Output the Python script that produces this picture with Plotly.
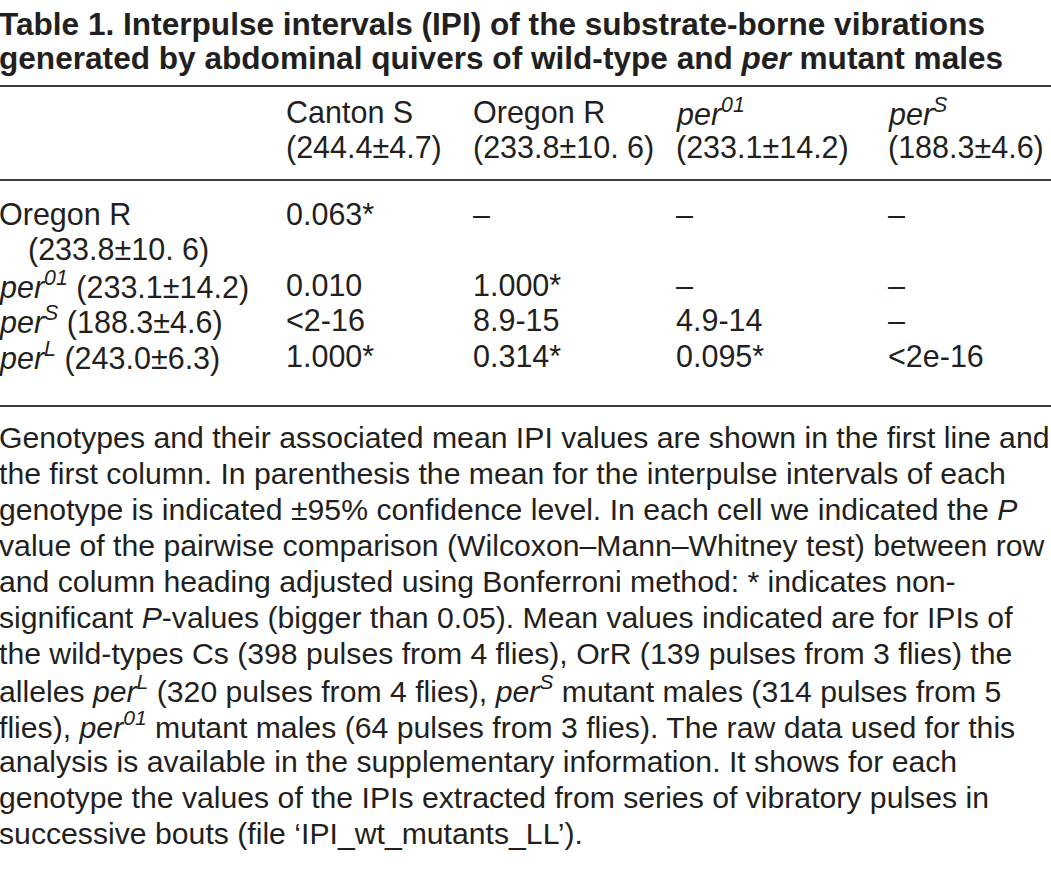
import plotly.graph_objects as go

# ---------------- data ----------------
title_lines = [
    "Table 1. Interpulse intervals (IPI) of the substrate-borne vibrations",
    "generated by abdominal quivers of wild-type and <i>per</i> mutant males",
]
col_names = ["Canton S", "Oregon R", "<i>per<sup>01</sup></i>", "<i>per<sup>S</sup></i>"]
col_means = ["(244.4±4.7)", "(233.8±10. 6)", "(233.1±14.2)", "(188.3±4.6)"]

row_labels = [
    "Oregon R",
    "<i>per<sup>01</sup></i> (233.1±14.2)",
    "<i>per<sup>S</sup></i> (188.3±4.6)",
    "<i>per<sup>L</sup></i> (243.0±6.3)",
]
row_label_extra = "(233.8±10. 6)"  # second line of first row label

p_values = [
    ["0.063*", "–", "–", "–"],
    ["0.010", "1.000*", "–", "–"],
    ["&lt;2-16", "8.9-15", "4.9-14", "–"],
    ["1.000*", "0.314*", "0.095*", "&lt;2e-16"],
]

caption_lines = [
    "Genotypes and their associated mean IPI values are shown in the first line and",
    "the first column. In parenthesis the mean for the interpulse intervals of each",
    "genotype is indicated ±95% confidence level. In each cell we indicated the <i>P</i>",
    "value of the pairwise comparison (Wilcoxon–Mann–Whitney test) between row",
    "and column heading adjusted using Bonferroni method: * indicates non-",
    "significant <i>P</i>-values (bigger than 0.05). Mean values indicated are for IPIs of",
    "the wild-types Cs (398 pulses from 4 flies), OrR (139 pulses from 3 flies) the",
    "alleles <i>per<sup>L</sup></i> (320 pulses from 4 flies), <i>per<sup>S</sup></i> mutant males (314 pulses from 5",
    "flies), <i>per<sup>01</sup></i> mutant males (64 pulses from 3 flies). The raw data used for this",
    "analysis is available in the supplementary information. It shows for each",
    "genotype the values of the IPIs extracted from series of vibratory pulses in",
    "successive bouts (file ‘IPI_wt_mutants_LL’).",
]

# ---------------- layout ----------------
W, H = 1051, 881
TXT = "#231f20"
FONT = "Liberation Sans, Arial, sans-serif"
FS_TITLE = 31.6
FS_BODY = 30.5
FS_CAP = 30.2

title_y = [24, 58]
rule_y = [86, 180, 406]
header_y = [112, 147]
row_y = [214, 285, 320, 356]
extra_y = 249
col_x = [287, 474, 677, 889]
cap_y0, cap_dy = 437, 36

fig = go.Figure()
ann = []


def add(text, x, y, size, bold=False):
    ann.append(dict(
        text=f"<b>{text}</b>" if bold else text,
        x=x, y=y, xref="x", yref="y", xshift=-3,
        xanchor="left", yanchor="middle",
        showarrow=False, align="left",
        font=dict(family=FONT, size=size, color=TXT),
    ))


for i, t in enumerate(title_lines):
    add(t, 0, title_y[i], FS_TITLE, bold=True)

for j in range(len(col_names)):
    add(col_names[j], col_x[j], header_y[0], FS_BODY)
    add(col_means[j], col_x[j], header_y[1], FS_BODY)

for i, lab in enumerate(row_labels):
    add(lab, 0, row_y[i], FS_BODY)
    for j, v in enumerate(p_values[i]):
        add(v, col_x[j], row_y[i], FS_BODY)
add(row_label_extra, 29, extra_y, FS_BODY)

for k, line in enumerate(caption_lines):
    add(line, 0, cap_y0 + k * cap_dy, FS_CAP)

shapes = [
    dict(type="line", xref="x", yref="y", x0=0, x1=W, y0=y, y1=y,
         line=dict(color="#3c3c3c", width=1.8))
    for y in rule_y
]

fig.update_layout(
    width=W, height=H,
    margin=dict(l=0, r=0, t=0, b=0),
    paper_bgcolor="white", plot_bgcolor="white",
    xaxis=dict(range=[0, W], visible=False, fixedrange=True),
    yaxis=dict(range=[H, 0], visible=False, fixedrange=True),
    annotations=ann, shapes=shapes,
    showlegend=False,
)

fig.write_html(
    "out.html",
    config={"displayModeBar": False},
    post_script="document.body.style.margin='0';document.body.style.overflow='hidden';",
)
